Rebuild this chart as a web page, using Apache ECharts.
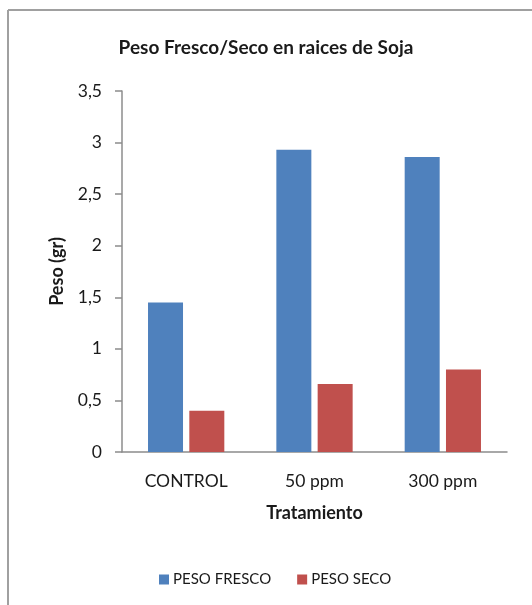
<!DOCTYPE html>
<html>
<head>
<meta charset="utf-8">
<script src="https://cdn.jsdelivr.net/npm/echarts@6/dist/echarts.min.js"></script>
<style>html,body{margin:0;padding:0;background:#fff}#c{width:532px;height:605px}</style>
</head>
<body>
<div id="c"></div>
<script>
const categories = ['CONTROL', '50 ppm', '300 ppm'];
const pesoFresco = [1.45, 2.93, 2.86];
const pesoSeco = [0.40, 0.66, 0.80];
const seriesNames = ['PESO FRESCO', 'PESO SECO'];
const titleText = 'Peso Fresco/Seco en raices de Soja';
const yName = 'Peso (gr)';
const xName = 'Tratamiento';

const chart = echarts.init(document.getElementById('c'), null, {renderer: 'canvas'});
const font = 'Lato, "Open Sans", sans-serif';
const txt = '#1a1a1a';
chart.setOption({
  animation: false,
  backgroundColor: '#fff',
  title: {
    text: titleText, left: 'center', top: 33,
    textStyle: {fontFamily: font, fontSize: 19, fontWeight: 'bold', color: txt}
  },
  legend: {
    data: seriesNames, left: 154, top: 567, itemWidth: 10, itemHeight: 10, itemGap: 26,
    icon: 'rect',
    textStyle: {fontFamily: font, fontSize: 15, color: txt, padding: [0, 0, 0, -1]}
  },
  grid: {left: 122, right: 25, top: 91, bottom: 153},
  xAxis: {
    type: 'category', data: categories,
    name: xName, nameLocation: 'middle', nameGap: 52,
    nameTextStyle: {fontFamily: font, fontSize: 18, fontWeight: 'bold', color: txt},
    axisLine: {lineStyle: {color: '#8c8c8c', width: 1.5}},
    axisTick: {show: false},
    axisLabel: {fontFamily: font, fontSize: 17.5, color: txt, margin: 20}
  },
  yAxis: {
    type: 'value', min: 0, max: 3.5, interval: 0.5,
    name: yName, nameLocation: 'middle', nameGap: 56, nameRotate: 90,
    nameTextStyle: {fontFamily: font, fontSize: 18, fontWeight: 'bold', color: txt},
    axisLine: {show: true, lineStyle: {color: '#8c8c8c', width: 1.5}},
    axisTick: {show: true, length: 7, lineStyle: {color: '#8c8c8c', width: 1.5}},
    splitLine: {show: false},
    axisLabel: {fontFamily: font, fontSize: 17.5, color: txt, margin: 20,
      formatter: v => String(v).replace('.', ',')}
  },
  series: [
    {name: seriesNames[0], type: 'bar', data: pesoFresco, barWidth: 35, barGap: '18%',
     itemStyle: {color: '#4F81BD'}},
    {name: seriesNames[1], type: 'bar', data: pesoSeco, barWidth: 35,
     itemStyle: {color: '#C0504D'}}
  ],
  graphic: [
    {type: 'line', shape: {x1: 8, y1: 10, x2: 532, y2: 10}, style: {stroke: '#a0a0a0', lineWidth: 2}},
    {type: 'line', shape: {x1: 8, y1: 10, x2: 8, y2: 605}, style: {stroke: '#a0a0a0', lineWidth: 2}}
  ]
});
</script>
</body>
</html>
